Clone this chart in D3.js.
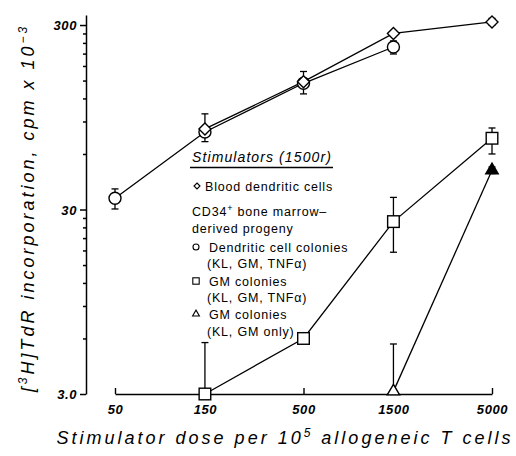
<!DOCTYPE html>
<html><head><meta charset="utf-8">
<script src="https://cdn.jsdelivr.net/npm/d3@7"></script>
<style>
body{margin:0;background:#fff;}
svg{display:block;font-family:"Liberation Sans",Arial,Helvetica,sans-serif;}
</style></head><body>
<svg id="chart" width="516" height="456"></svg>
<script>
// ---- data ----
const doses = [50, 150, 500, 1500, 5000];
const xTickLabels = ["50", "150", "500", "1500", "5000"];
const yMajorTicks = [3, 30, 300];
const yTickLabels = ["3.0", "30", "300"];
const yMinorTicks = [6, 9, 12, 15, 18, 21, 24, 27, 60, 90, 120, 150, 180, 210, 240, 270];

// Blood dendritic cells (diamonds)
const bloodDoses = [150, 500, 1500, 5000];
const bloodValues = [82, 148, 270, 312];
const bloodHi = [82, 148, 270, 326];
const bloodLo = [82, 148, 270, 300];

// Dendritic cell colonies (KL, GM, TNFa) (circles)
const dcDoses = [50, 150, 500, 1500];
const dcValues = [34.5, 79, 145, 228];
const dcHi = [38.8, 99, 168, 246];
const dcLo = [30.2, 70, 127, 209];

// GM colonies (KL, GM, TNFa) (squares)
const gmtDoses = [150, 500, 1500, 5000];
const gmtValues = [3.0, 6.0, 25.8, 73];
const gmtHi = [5.7, 6.1, 34.9, 83];
const gmtLo = [3.0, 5.9, 17.6, 60];

// GM colonies (KL, GM only) (triangles)
const gmDoses = [1500, 5000];
const gmValues = [3.1, 49];
const gmHi = [5.6, 51];
const gmLo = [3.1, 47];

const legendTitle = "Stimulators (1500r)";

// ---- scales ----
const svg = d3.select("#chart");
const x = d3.scaleLog().domain([50, 5000]).range([115, 492]);
const y = d3.scaleLog().domain([3, 340]).range([394, 15]);

const tickFont = "italic bold 13px 'Liberation Sans', Arial, sans-serif";

// ---- axes ----
const yMajor = svg.append("g").attr("transform", "translate(86,0)")
  .call(d3.axisLeft(y).tickValues(yMajorTicks)
    .tickFormat((d, i) => yTickLabels[i]).tickSize(6).tickSizeOuter(0).tickPadding(3));
yMajor.selectAll("text").style("font", tickFont).attr("dy", "0.36em").attr("letter-spacing", 0.6);
const yMinor = svg.append("g").attr("transform", "translate(86,0)")
  .call(d3.axisLeft(y).tickValues(yMinorTicks).tickFormat("").tickSize(3).tickSizeOuter(0));
yMinor.select(".domain").remove();
svg.selectAll("g path.domain, g line").attr("stroke", "#000").attr("stroke-width", 1.5);

const xAxis = svg.append("g").attr("transform", "translate(0,394)")
  .call(d3.axisBottom(x).tickValues(doses)
    .tickFormat((d, i) => xTickLabels[i]).tickSize(-6).tickSizeOuter(0).tickPadding(11));
xAxis.selectAll("text").style("font", tickFont).attr("letter-spacing", 0.6);
xAxis.selectAll("path.domain, line").attr("stroke", "#000").attr("stroke-width", 1.4);
svg.selectAll(".tick text").attr("fill", "#000");

// ---- series ----
const series = [
  {d: dcDoses, v: dcValues, hi: dcHi, lo: dcLo, sym: "circle"},
  {d: bloodDoses, v: bloodValues, hi: bloodHi, lo: bloodLo, sym: "diamond"},
  {d: gmtDoses, v: gmtValues, hi: gmtHi, lo: gmtLo, sym: "square"},
  {d: gmDoses, v: gmValues, hi: gmHi, lo: gmLo, sym: "triangleFilled"}
];

const line = d3.line().x(p => x(p[0])).y(p => y(p[1]));
series.forEach(s => {
  svg.append("path").datum(s.d.map((d, i) => [d, s.v[i]]))
    .attr("d", line).attr("fill", "none").attr("stroke", "#000").attr("stroke-width", 1.3);
});

// error bars
series.forEach(s => {
  s.d.forEach((d, i) => {
    const cx = x(d);
    if (s.hi[i] > s.v[i]) {
      svg.append("line").attr("x1", cx).attr("x2", cx).attr("y1", y(s.v[i])).attr("y2", y(s.hi[i]))
        .attr("stroke", "#000").attr("stroke-width", 1.3);
      svg.append("line").attr("x1", cx - 3.5).attr("x2", cx + 3.5).attr("y1", y(s.hi[i])).attr("y2", y(s.hi[i]))
        .attr("stroke", "#000").attr("stroke-width", 1.3);
    }
    if (s.lo[i] < s.v[i]) {
      svg.append("line").attr("x1", cx).attr("x2", cx).attr("y1", y(s.v[i])).attr("y2", y(s.lo[i]))
        .attr("stroke", "#000").attr("stroke-width", 1.3);
      svg.append("line").attr("x1", cx - 3.5).attr("x2", cx + 3.5).attr("y1", y(s.lo[i])).attr("y2", y(s.lo[i]))
        .attr("stroke", "#000").attr("stroke-width", 1.3);
    }
  });
});

function drawSymbol(g, type, cx, cy, scale, filledIdx) {
  let el;
  if (type === "circle") {
    el = g.append("circle").attr("cx", cx).attr("cy", cy).attr("r", 6 * scale);
  } else if (type === "square") {
    const h = 5.8 * scale;
    el = g.append("rect").attr("x", cx - h).attr("y", cy - h).attr("width", 2 * h).attr("height", 2 * h);
  } else if (type === "diamond") {
    const h = 6 * scale;
    el = g.append("path").attr("d", `M${cx},${cy - h}L${cx + h},${cy}L${cx},${cy + h}L${cx - h},${cy}Z`);
  } else {
    const w = 6.2 * scale, ht = 10.5 * scale;
    el = g.append("path").attr("d", `M${cx},${cy - ht * 2 / 3}L${cx + w},${cy + ht / 3}L${cx - w},${cy + ht / 3}Z`);
  }
  el.attr("fill", filledIdx ? "#000" : "#fff").attr("stroke", "#000").attr("stroke-width", 1.4);
}

const symG = svg.append("g");
series.forEach(s => {
  s.d.forEach((d, i) => {
    const filled = s.sym === "triangleFilled" && d === 5000;
    drawSymbol(symG, s.sym === "triangleFilled" ? "triangle" : s.sym, x(d), y(s.v[i]), 1, filled);
  });
});

// ---- legend ----
const lg = svg.append("g");
const legFont = "'Liberation Sans', Arial, sans-serif";
lg.append("text").attr("x", 192).attr("y", 162).text(legendTitle)
  .style("font", "italic 14px " + legFont).attr("letter-spacing", 1.1);
lg.append("line").attr("x1", 190).attr("x2", 333).attr("y1", 167.5).attr("y2", 167.5)
  .attr("stroke", "#000").attr("stroke-width", 1.3);

const legendRows = [
  {y: 186, x: 205, text: "Blood dendritic cells", sym: "diamond"},
  {y: 211, x: 192, text: "CD34", sup: "+", rest: " bone marrow\u2013"},
  {y: 228, x: 192, text: "derived progeny"},
  {y: 247, x: 209, text: "Dendritic cell colonies", sym: "circle"},
  {y: 263, x: 207, text: "(KL, GM, TNF\u03b1)"},
  {y: 281, x: 209, text: "GM colonies", sym: "square"},
  {y: 297, x: 207, text: "(KL, GM, TNF\u03b1)"},
  {y: 314, x: 209, text: "GM colonies", sym: "triangle"},
  {y: 331, x: 207, text: "(KL, GM only)"}
];
legendRows.forEach(r => {
  const t = lg.append("text").attr("x", r.x).attr("y", r.y).attr("dy", "0.36em")
    .style("font", "12.5px " + legFont).attr("letter-spacing", 0.8);
  t.append("tspan").text(r.text);
  if (r.sup) {
    t.append("tspan").attr("dy", -5).style("font-size", "9px").text(r.sup);
    t.append("tspan").attr("dy", 5).text(r.rest);
  }
  if (r.sym) {
    const sc = r.sym === "diamond" ? 0.5 : (r.sym === "circle" ? 0.5 : 0.55);
    drawSymbol(lg, r.sym, r.sym === "diamond" ? 197 : 196, r.y, sc, false);
  }
});
lg.selectAll("circle, rect, path").attr("stroke-width", 1.1);

// ---- axis titles ----
const yt = svg.append("text")
  .attr("transform", "translate(34,208) rotate(-90)")
  .attr("text-anchor", "middle")
  .style("font", "italic 18px " + legFont).attr("letter-spacing", 3);
yt.append("tspan").text("[");
yt.append("tspan").attr("dy", -7).style("font-size", "12px").text("3");
yt.append("tspan").attr("dy", 7).text("H]TdR incorporation, cpm x 10");
yt.append("tspan").attr("dy", -7).style("font-size", "12px").text("\u22123");

const xt = svg.append("text")
  .attr("x", 285).attr("y", 444)
  .attr("text-anchor", "middle")
  .style("font", "italic 18px " + legFont).attr("letter-spacing", 3);
xt.append("tspan").text("Stimulator dose per 10");
xt.append("tspan").attr("dy", -7).style("font-size", "12px").text("5");
xt.append("tspan").attr("dy", 7).text(" allogeneic T cells");
</script>
</body></html>
